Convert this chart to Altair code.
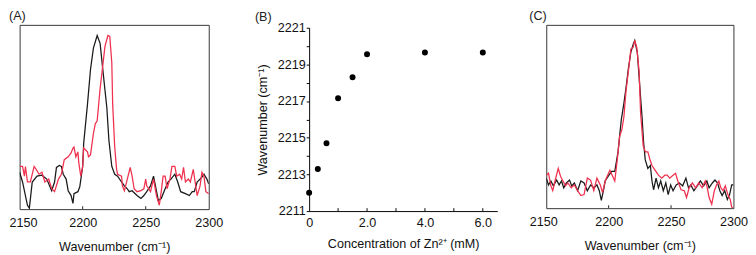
import altair as alt
import pandas as pd

FONT = "Liberation Sans"
BLACK = "#1a1a1a"
RED = "#f0304f"

# ---------- Panel A ----------
a_black_wn = [2150.0, 2152.3, 2156.2, 2157.7, 2160.0, 2163.8, 2167.7, 2171.5, 2175.4, 2177.7,
              2179.2, 2181.5, 2183.1, 2184.6, 2186.9, 2188.5, 2190.8, 2192.3, 2193.1, 2196.2,
              2197.7, 2200.0, 2200.8, 2203.8, 2206.2, 2208.5, 2211.5, 2213.8, 2216.2, 2219.2,
              2220.8, 2223.1, 2225.4, 2227.7, 2230.8, 2233.1, 2235.4, 2236.9, 2239.2, 2243.1,
              2246.2, 2248.5, 2250.8, 2253.8, 2256.2, 2257.7, 2260.0, 2262.3, 2265.4, 2267.7,
              2270.0, 2273.1, 2275.4, 2277.7, 2281.5, 2284.6, 2286.9, 2288.5, 2290.8, 2294.6,
              2296.2, 2298.5, 2300.0]
a_black_int = [38, 28, 4, 1, 28, 34, 35, 31, 19, 28,
               43, 45, 44, 36, 31, 19, 14, 6, 16, 18,
               23, 44, 68, 108, 144, 166, 179, 171, 141, 104,
               71, 44, 36, 34, 28, 24, 21, 18, 19, 14,
               11, 14, 18, 24, 34, 24, 9, 11, 21, 28,
               31, 36, 28, 18, 16, 14, 18, 18, 28, 33,
               36, 31, 26]

a_red_wn = [2150.0, 2152.3, 2153.8, 2154.6, 2156.2, 2158.5, 2161.5, 2163.1, 2165.4, 2167.7,
            2170.0, 2173.1, 2175.4, 2177.7, 2180.8, 2183.1, 2185.4, 2188.5, 2190.8, 2192.3,
            2193.1, 2194.6, 2196.2, 2196.9, 2198.5, 2200.0, 2200.8, 2203.8, 2204.6, 2206.2,
            2208.5, 2210.0, 2211.5, 2213.8, 2216.2, 2217.7, 2220.0, 2221.5, 2223.1, 2223.8,
            2225.4, 2226.9, 2227.7, 2230.8, 2231.5, 2233.1, 2235.4, 2237.7, 2239.2, 2240.8,
            2243.1, 2246.2, 2248.5, 2250.0, 2250.8, 2253.8, 2256.2, 2258.5, 2260.8, 2262.3,
            2263.8, 2265.4, 2266.9, 2269.2, 2270.8, 2273.1, 2274.6, 2276.9, 2278.5, 2280.0,
            2281.5, 2283.8, 2285.4, 2287.7, 2289.2, 2290.8, 2293.1, 2294.6, 2296.2, 2297.7,
            2300.0]
a_red_int = [44, 44, 34, 44, 28, 28, 44, 41, 36, 38,
             28, 31, 21, 18, 31, 36, 51, 54, 58, 63,
             64, 54, 59, 48, 34, 44, 63, 59, 54, 56,
             78, 88, 91, 124, 151, 168, 179, 178, 151, 108,
             64, 41, 36, 34, 24, 19, 31, 43, 34, 21,
             18, 19, 21, 31, 24, 18, 31, 14, 4, 18,
             34, 34, 21, 31, 44, 44, 34, 36, 31, 43,
             28, 31, 28, 41, 28, 14, 24, 38, 34, 18,
             16]

# ---------- Panel B ----------
b_conc = [0.0, 0.3, 0.6, 1.0, 1.5, 2.0, 4.0, 6.0]
b_wn = [2212.0, 2213.3, 2214.7, 2217.15, 2218.3, 2219.55, 2219.65, 2219.65]

# ---------- Panel C ----------
c_black_wn = [2150.0, 2151.8, 2153.7, 2155.7, 2158.3, 2160.3, 2162.2, 2164.0, 2166.1, 2168.6,
              2170.4, 2172.5, 2175.1, 2177.7, 2180.3, 2182.9, 2185.5, 2188.1, 2190.6, 2192.5,
              2194.1, 2195.8, 2197.2, 2199.7, 2202.3, 2204.9, 2207.5, 2210.1, 2212.2, 2213.9,
              2215.8, 2217.8, 2219.7, 2220.9, 2223.0, 2224.8, 2226.7, 2228.0, 2229.3, 2231.4,
              2233.4, 2234.7, 2236.0, 2238.0, 2239.9, 2241.7, 2243.8, 2245.8, 2247.7, 2249.7,
              2251.6, 2254.1, 2256.7, 2259.3, 2261.9, 2264.0, 2265.8, 2268.3, 2271.0, 2273.5,
              2276.1, 2278.7, 2280.5, 2283.1, 2285.2, 2287.3, 2289.1, 2290.9, 2293.0, 2295.1,
              2296.9, 2298.6, 2300.0]
c_black_int = [31, 24, 28, 23, 29, 24, 28, 21, 26, 29,
               23, 26, 18, 28, 26, 18, 24, 21, 24, 18,
               8, 18, 28, 33, 38, 38, 58, 91, 108, 124,
               144, 161, 169, 173, 160, 128, 95, 68, 50, 41,
               44, 28, 19, 31, 21, 28, 18, 26, 14, 24,
               18, 24, 26, 23, 31, 21, 24, 18, 23, 28,
               23, 28, 21, 26, 29, 26, 18, 13, 18, 9,
               14, 24, 24]

c_red_wn = [2150.0, 2151.8, 2153.7, 2155.2, 2157.0, 2159.6, 2161.4, 2163.4, 2165.5, 2167.3,
            2170.0, 2172.5, 2175.1, 2177.7, 2180.3, 2182.9, 2185.5, 2188.1, 2190.6, 2193.3,
            2195.1, 2197.2, 2199.2, 2201.0, 2202.8, 2204.9, 2207.0, 2208.8, 2210.6, 2212.2,
            2213.9, 2215.8, 2217.8, 2219.7, 2220.9, 2222.5, 2224.4, 2225.6, 2227.7, 2229.5,
            2231.4, 2232.9, 2234.7, 2237.3, 2239.9, 2242.5, 2245.0, 2246.9, 2248.9, 2251.6,
            2253.6, 2255.4, 2258.0, 2260.6, 2262.4, 2264.5, 2267.1, 2269.7, 2272.2, 2274.9,
            2277.4, 2278.7, 2280.5, 2282.6, 2284.7, 2286.5, 2288.3, 2289.9, 2291.7, 2293.5,
            2295.5, 2297.4, 2298.6, 2299.7]
c_red_int = [34, 36, 23, 18, 28, 41, 33, 28, 23, 26,
             21, 24, 18, 13, 14, 31, 29, 18, 31, 24,
             16, 28, 34, 39, 34, 28, 51, 74, 81, 94,
             121, 141, 164, 166, 173, 166, 141, 98, 64, 58,
             58, 51, 44, 39, 34, 31, 34, 34, 31, 34,
             36, 28, 19, 18, 11, 21, 26, 21, 26, 21,
             28, 23, 11, 4, 18, 24, 28, 21, 18, 23,
             14, 9, 1, 0]

spec_ticks = [2200, 2250]
b_xticks = [1, 2, 3, 4, 5, 6]


def spectrum(black_wn, black_int, red_wn, red_int, label, ymax, h, w, first_offset, toff):
    xs = alt.Scale(domain=[2150, 2300], nice=False, zero=False)
    ys = alt.Scale(domain=[0, ymax], nice=False, zero=False)
    xaxis = alt.Axis(
        values=[2150, 2200, 2250, 2300], format="d", ticks=False, tickSize=0,
        domain=False, grid=False, labelFlush=False, labelPadding=8,
        labelOffset={"condition": {"test": "datum.value == 2150", "value": first_offset}, "value": 0},
        title="Wavenumber (cm⁻¹)", titlePadding=12,
    )
    dfb = pd.DataFrame({"wn": black_wn, "intensity": black_int})
    dfr = pd.DataFrame({"wn": red_wn, "intensity": red_int})
    dft = pd.DataFrame({"wn": spec_ticks})
    lb = alt.Chart(dfb).mark_line(color=BLACK, strokeWidth=1.3, clip=True).encode(
        x=alt.X("wn:Q", scale=xs, axis=xaxis),
        y=alt.Y("intensity:Q", scale=ys, axis=None),
    )
    lr = alt.Chart(dfr).mark_line(color=RED, strokeWidth=1.3, clip=True).encode(
        x=alt.X("wn:Q", scale=xs),
        y=alt.Y("intensity:Q", scale=ys),
    )
    tk = alt.Chart(dft).mark_rule(color="#222", strokeWidth=1).encode(
        x=alt.X("wn:Q", scale=xs), y=alt.value(h - 3), y2=alt.value(h)
    )
    return alt.layer(lb, lr, tk).properties(
        width=w, height=h,
        title=alt.TitleParams(label, anchor="start", frame="bounds", offset=toff,
                              fontSize=13, fontWeight="normal", font=FONT, color="#222"),
        view=alt.ViewBackground(stroke="#333", strokeWidth=1),
    )


A = spectrum(a_black_wn, a_black_int, a_red_wn, a_red_int, "(A)", 190, 190, 195, 3.5, 2)
C = spectrum(c_black_wn, c_black_int, c_red_wn, c_red_int, "(C)", 189, 189, 193, -3, 2)

# Panel B
BH = 192
bx = alt.Scale(domain=[0, 6.5], nice=False, zero=False)
by = alt.Scale(domain=[2211, 2221], nice=False, zero=False, range=[BH, 3])
dfp = pd.DataFrame({"conc": b_conc, "wn": b_wn})
dfbt = pd.DataFrame({"conc": b_xticks})
pts = alt.Chart(dfp).mark_circle(size=38, color="#000", opacity=1).encode(
    x=alt.X("conc:Q", scale=bx, axis=alt.Axis(
        values=[0, 1, 2, 3, 4, 5, 6], ticks=False, tickSize=0, grid=False,
        labelExpr="datum.value == 0 ? '0' : (datum.value % 2 == 0 ? format(datum.value, '.1f') : '')",
        labelOverlap=False, labelFlush=False, labelPadding=6,
        domainColor="#000", title="Concentration of Zn²⁺ (mM)", titlePadding=9)),
    y=alt.Y("wn:Q", scale=by, axis=alt.Axis(
        values=list(range(2211, 2222)), format="d", grid=False,
        labelExpr="datum.value % 2 == 1 ? datum.label : ''",
        labelOverlap=False, tickSize=3, tickColor="#000", domainColor="#000",
        labelPadding=1, title="Wavenumber (cm⁻¹)", titlePadding=8.5)),
)
btk = alt.Chart(dfbt).mark_rule(color="#000", strokeWidth=1).encode(
    x=alt.X("conc:Q", scale=bx), y=alt.value(BH - 3), y2=alt.value(BH)
)
B = alt.layer(pts, btk).properties(
    width=194, height=BH,
    title=alt.TitleParams("(B)", anchor="start", frame="bounds", offset=-1.5, dx=-1.5,
                          fontSize=13, fontWeight="normal", font=FONT, color="#222"),
    view=alt.ViewBackground(stroke=None),
)

chart = alt.hconcat(A, B, C, spacing=32.5).properties(
    padding={"left": 0, "top": -2.5, "right": 0, "bottom": 0}
).configure_axis(
    labelFont=FONT, titleFont=FONT, labelFontSize=13, titleFontSize=13,
    titleFontWeight="normal", labelColor="#111", titleColor="#111",
)

chart.save("out.html", embed_options={"renderer": "svg", "actions": False})
